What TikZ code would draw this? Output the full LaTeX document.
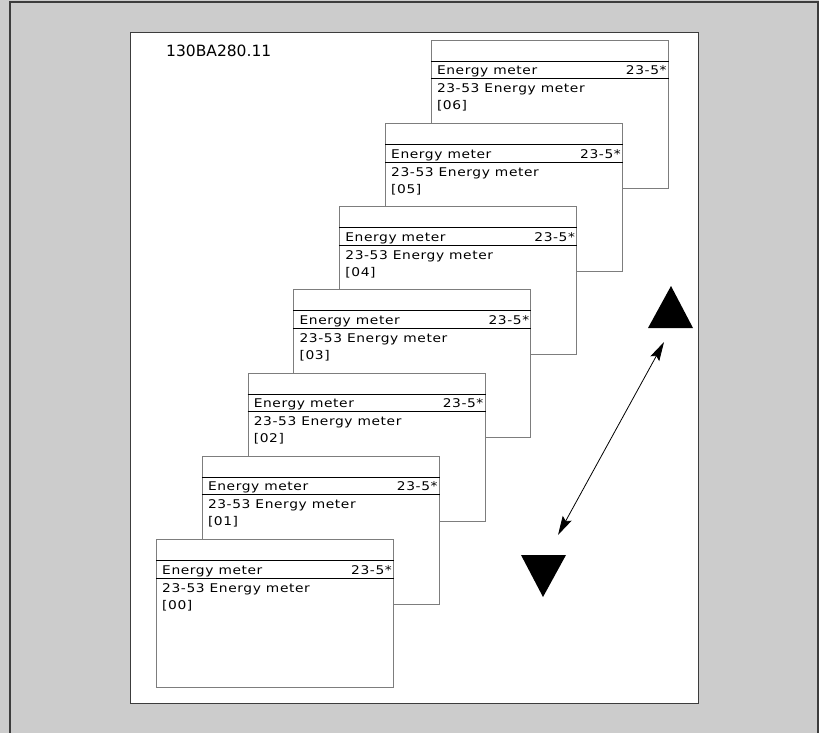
\documentclass[tikz,border=0pt]{standalone}
\usepackage{fontspec}
\setmainfont{DejaVu Sans}
\newfontfamily\lcdfont[FakeStretch=1.15, LetterSpace=5]{DejaVu Sans}
\usepackage{tikz}
\usetikzlibrary{arrows.meta, positioning, calc}

\definecolor{bggray}{RGB}{204,204,204}
\definecolor{framegray}{RGB}{60,60,60}
\definecolor{scrgray}{RGB}{125,125,125}

\begin{document}
\begin{tikzpicture}[
  x=1pt, y=-1pt,
  screen/.style={rectangle, draw=scrgray, line width=1pt, fill=white, anchor=north west,
    minimum width=237pt, minimum height=148pt, inner sep=0pt},
  lcd/.style={font=\lcdfont\fontsize{12}{14}\selectfont, inner sep=0pt},
  rule/.style={black, line width=1pt},
  arrow/.style={{Stealth[length=19pt,width=10pt,inset=3pt]}-{Stealth[length=19pt,width=10pt,inset=3pt]}, line width=0.8pt}
]
\useasboundingbox (0,0) rectangle (819,733);
\fill[bggray] (0,0) rectangle (819,733);
\draw[framegray, line width=1.3pt] (10,733) -- (10,2) -- (818,2) -- (818,733);
\node[draw=framegray, line width=1.3pt, fill=white, anchor=north west, inner sep=0pt,
  minimum width=568pt, minimum height=671pt] (page) at (130,32) {};
\node[anchor=base west, inner sep=0pt, font=\fontsize{15.5}{17}\selectfont] (code) at (166,57) {130BA280.11};

% screens, back to front
\foreach \i in {6,5,...,0}{
  \node[screen] (s\i) at ({156+45.8*\i},{539-83.2*\i}) {};
  \draw[rule] ($(s\i.north west)+(0,21.5)$) -- ($(s\i.north east)+(0,21.5)$);
  \draw[rule] ($(s\i.north west)+(0,39)$) -- ($(s\i.north east)+(0,39)$);
  \node[lcd, anchor=base west] (ttl\i) at ($(s\i.north west)+(6,35)$) {Energy meter};
  \node[lcd, anchor=base east] (grp\i) at ($(s\i.north east)+(-2,35)$) {23-5*};
  \node[lcd, anchor=base west] (par\i) at ($(s\i.north west)+(6,53)$) {23-53 Energy meter};
  \node[lcd, anchor=base west] (val\i) at ($(s\i.north west)+(6,70)$) {[0\i]};
}

% scroll keys
\fill (671,286) -- (693,328) -- (648,328) -- cycle;
\fill (543,597) -- (566,555) -- (521,555) -- cycle;
\coordinate (up) at (664,342);
\coordinate (dn) at (558,535);
\draw[arrow] (dn) -- (up);
\end{tikzpicture}
\end{document}
